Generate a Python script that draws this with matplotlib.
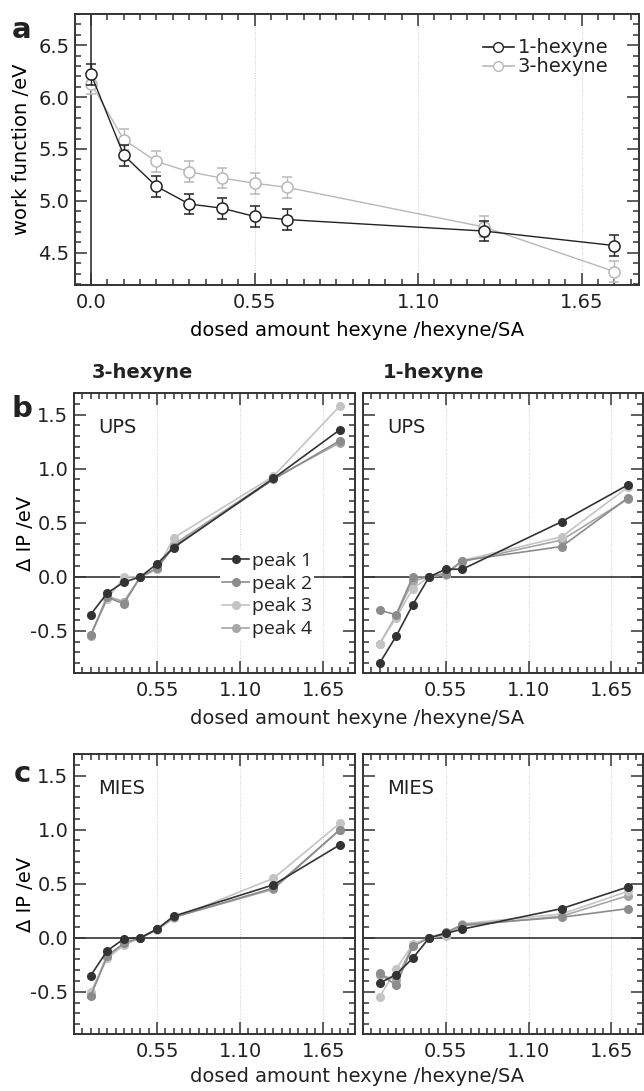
import matplotlib
matplotlib.use("Agg")
import matplotlib.pyplot as plt
from matplotlib.lines import Line2D
from matplotlib.ticker import FixedLocator, MultipleLocator

# =========================
# data
# =========================

dose_wf = [0.0, 0.11, 0.22, 0.33, 0.44, 0.55, 0.66, 1.32, 1.76]
wf_1hexyne = [6.22, 5.44, 5.14, 4.97, 4.93, 4.85, 4.82, 4.71, 4.57]
wf_3hexyne = [6.13, 5.59, 5.38, 5.28, 5.22, 5.17, 5.13, 4.75, 4.32]
wf_err = [0.1, 0.1, 0.1, 0.1, 0.1, 0.1, 0.1, 0.1, 0.1]

dose_ip = [0.11, 0.22, 0.33, 0.44, 0.55, 0.66, 1.32, 1.76]
peak_names = ["peak 1", "peak 2", "peak 3", "peak 4"]

ups_3hexyne = [
    [-0.35, -0.15, -0.05, 0.0, 0.12, 0.27, 0.91, 1.36],
    [-0.54, -0.19, -0.25, 0.0, 0.08, 0.28, 0.90, 1.26],
    [-0.54, -0.21, 0.0, 0.0, 0.07, 0.36, 0.93, 1.58],
    [-0.55, -0.18, -0.23, 0.0, 0.07, 0.30, 0.91, 1.24],
]
ups_1hexyne = [
    [-0.80, -0.55, -0.26, 0.0, 0.07, 0.07, 0.51, 0.85],
    [-0.31, -0.35, 0.0, 0.0, 0.03, 0.15, 0.28, 0.73],
    [-0.62, -0.38, -0.11, 0.0, 0.02, 0.15, 0.37, 0.83],
    [-0.62, -0.36, -0.04, 0.0, 0.03, 0.14, 0.34, 0.72],
]
mies_3hexyne = [
    [-0.35, -0.12, -0.01, 0.0, 0.08, 0.20, 0.49, 0.86],
    [-0.54, -0.17, -0.05, 0.0, 0.08, 0.19, 0.46, 1.00],
    [-0.50, -0.19, -0.07, 0.0, 0.07, 0.18, 0.55, 1.06],
    [-0.53, -0.16, -0.06, 0.0, 0.08, 0.19, 0.45, 1.00],
]
mies_1hexyne = [
    [-0.42, -0.34, -0.19, 0.0, 0.04, 0.08, 0.27, 0.47],
    [-0.33, -0.44, -0.08, 0.0, 0.05, 0.12, 0.19, 0.27],
    [-0.55, -0.29, -0.06, 0.0, 0.02, 0.13, 0.22, 0.43],
    [-0.34, -0.39, -0.07, 0.0, 0.04, 0.11, 0.20, 0.39],
]

x_major = [0.0, 0.55, 1.10, 1.65]
x_labels = ["0.0", "0.55", "1.10", "1.65"]

peak_colors = ["#333333", "#8c8c8c", "#c4c4c4", "#a6a6a6"]
c_1hex = "#222222"
c_3hex = "#b8b8b8"

# =========================
# style
# =========================

plt.rcParams["font.family"] = ["DejaVu Sans"]
plt.rcParams["font.size"] = 14
plt.rcParams["axes.unicode_minus"] = False
plt.rcParams["axes.edgecolor"] = "#333333"
plt.rcParams["axes.linewidth"] = 1.4
plt.rcParams["text.color"] = "#222222"
plt.rcParams["xtick.color"] = "#333333"
plt.rcParams["ytick.color"] = "#333333"
plt.rcParams["xtick.labelcolor"] = "#222222"
plt.rcParams["ytick.labelcolor"] = "#222222"

W, H = 644, 1091
fig = plt.figure(figsize=(W / 100, H / 100), dpi=100)


def box(left, top, right, bottom):
    return [left / W, 1 - bottom / H, (right - left) / W, (bottom - top) / H]


def style_ticks(ax):
    ax.tick_params(which="both", direction="in", top=True, right=True, width=1.1)
    ax.tick_params(which="major", length=8.5)
    ax.tick_params(which="minor", length=4.3)
    ax.tick_params(axis="x", which="major", pad=6)
    ax.tick_params(axis="y", which="major", pad=4)


def grid_lines(ax):
    for xv in x_major[1:]:
        ax.axvline(xv, color="#d0d0d0", lw=0.7, ls=(0, (1, 1.5)), zorder=0)


# =========================
# a: work function
# =========================

ax_a = fig.add_axes(box(75, 14, 639, 285))
grid_lines(ax_a)
ax_a.axvline(0.0, color=c_1hex, lw=1.1, zorder=1)

ax_a.errorbar(dose_wf, wf_1hexyne, yerr=wf_err, color=c_1hex, lw=1.0,
              marker="o", ms=8, mfc="white", mec=c_1hex, mew=1.1,
              capsize=3.5, elinewidth=1.0, zorder=3)
ax_a.errorbar(dose_wf, wf_3hexyne, yerr=wf_err, color=c_3hex, lw=1.0,
              marker="o", ms=8, mfc="white", mec=c_3hex, mew=1.1,
              capsize=3.5, elinewidth=1.0, zorder=2)

ax_a.set_xlim(-0.054, 1.843)
ax_a.set_ylim(4.19, 6.80)
ax_a.xaxis.set_major_locator(FixedLocator(x_major))
ax_a.set_xticklabels(x_labels)
ax_a.xaxis.set_minor_locator(MultipleLocator(0.055))
ax_a.yaxis.set_major_locator(MultipleLocator(0.5))
ax_a.yaxis.set_minor_locator(MultipleLocator(0.1))
style_ticks(ax_a)
ax_a.set_ylabel("work function /eV", labelpad=5)
ax_a.set_xlabel("dosed amount hexyne /hexyne/SA", labelpad=6)

wf_handles = [
    Line2D([], [], color=c_1hex, lw=1.2, marker="o", ms=7, mfc="white", mec=c_1hex),
    Line2D([], [], color=c_3hex, lw=1.2, marker="o", ms=7, mfc="white", mec=c_3hex),
]
ax_a.legend(wf_handles, ["1-hexyne", "3-hexyne"], loc="upper right",
            bbox_to_anchor=(0.97, 0.96), frameon=False,
            handlelength=1.6, handletextpad=0.2, labelspacing=0.0,
            borderpad=0.2, fontsize=14)

# =========================
# b, c: ionisation potential shifts
# =========================

panels = [
    (box(74, 393, 355, 673), ups_3hexyne, "UPS", True),
    (box(363, 393, 643, 673), ups_1hexyne, "UPS", False),
    (box(74, 754, 355, 1034), mies_3hexyne, "MIES", True),
    (box(363, 754, 643, 1034), mies_1hexyne, "MIES", False),
]

axes_ip = []
for rect, series, method, first in panels:
    ax = fig.add_axes(rect)
    grid_lines(ax)
    ax.axhline(0.0, color=c_1hex, lw=1.1, zorder=1)
    for i, vals in enumerate(series):
        ax.plot(dose_ip, vals, color=peak_colors[i], lw=1.2, marker="o",
                ms=5.5, label=peak_names[i], zorder=6 - i)
    ax.set_xlim(0.0, 1.86)
    ax.set_ylim(-0.89, 1.70)
    ax.xaxis.set_major_locator(FixedLocator(x_major[1:]))
    ax.set_xticklabels(x_labels[1:])
    ax.xaxis.set_minor_locator(MultipleLocator(0.055))
    ax.yaxis.set_major_locator(MultipleLocator(0.5))
    ax.yaxis.set_minor_locator(MultipleLocator(0.1))
    style_ticks(ax)
    ax.text(0.085, 0.91, method, transform=ax.transAxes, ha="left", va="top",
            fontsize=14)
    if first:
        ax.set_ylabel("Δ IP /eV")
        ax.yaxis.set_label_coords(-0.14, 0.5)
    else:
        ax.tick_params(labelleft=False)
    axes_ip.append(ax)

leg = axes_ip[0].legend(loc="upper left", bbox_to_anchor=(0.52, 0.44),
                        handlelength=1.4, handletextpad=0.15, labelspacing=0.25,
                        borderpad=0.1, borderaxespad=0.0, frameon=True,
                        fancybox=False, prop={"family": "Open Sans", "size": 14})
leg.get_frame().set_facecolor("white")
leg.get_frame().set_edgecolor("none")
leg.get_frame().set_alpha(1.0)

# column titles and shared axis labels
fig.text(92 / W, 1 - 373 / H, "3-hexyne", fontweight="bold", fontsize=14,
         ha="left", va="center")
fig.text(383 / W, 1 - 373 / H, "1-hexyne", fontweight="bold", fontsize=14,
         ha="left", va="center")
fig.text(357 / W, 1 - 718 / H, "dosed amount hexyne /hexyne/SA",
         ha="center", va="center")
fig.text(357 / W, 1 - 1077 / H, "dosed amount hexyne /hexyne/SA",
         ha="center", va="center")

# panel letters
for letter, y in [("a", 30), ("b", 409), ("c", 774)]:
    fig.text(22 / W, 1 - y / H, letter, fontweight="bold", fontsize=21,
             ha="center", va="center")

plt.savefig("out.png", dpi=100)
